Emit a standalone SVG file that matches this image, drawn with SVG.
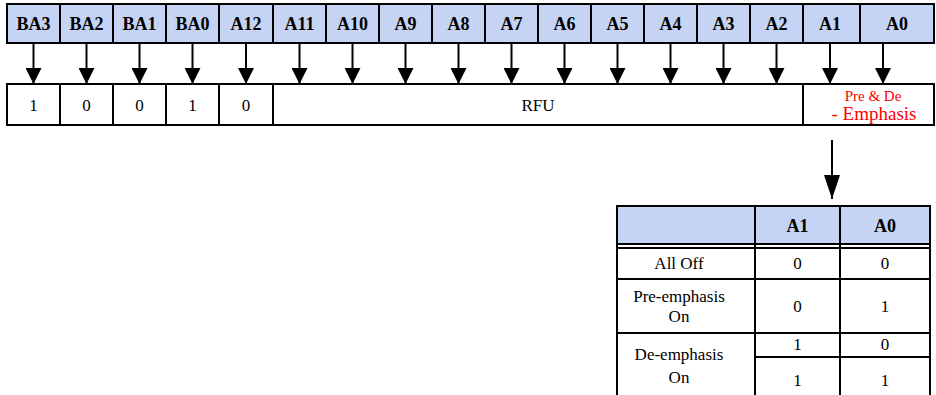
<svg xmlns="http://www.w3.org/2000/svg" width="936" height="395" viewBox="0 0 936 395">
<style>
.hd{fill:#c5d3f4;stroke:#000;stroke-width:2}
.cl{fill:#fff;stroke:#000;stroke-width:2}
.ln{stroke:#000;stroke-width:2;fill:none}
.hb{font-family:"Liberation Serif","DejaVu Serif",serif;font-weight:bold;font-size:18px;text-anchor:middle;fill:#000}
.tx{font-family:"Liberation Serif","DejaVu Serif",serif;font-size:17px;text-anchor:middle;fill:#000}
.red{font-family:"Liberation Serif","DejaVu Serif",serif;text-anchor:middle;fill:#ff0000}
.ar{stroke:#000;stroke-width:2;fill:none;marker-end:url(#ah)}
</style>
<defs>
<marker id="ah" markerUnits="userSpaceOnUse" markerWidth="16" markerHeight="16" refX="16" refY="8" orient="auto" viewBox="0 0 16 16"><path d="M0,0 L16,8 L0,16 z" fill="#000"/></marker>
<marker id="ah2" markerUnits="userSpaceOnUse" markerWidth="24" markerHeight="16" refX="24" refY="8" orient="auto" viewBox="0 0 24 16"><path d="M0,0 L24,8 L0,16 z" fill="#000"/></marker>
</defs>
<g id="header">
<rect class="hd" x="7" y="4" width="53" height="39"/><text class="hb" x="33.5" y="30">BA3</text>
<rect class="hd" x="60" y="4" width="53" height="39"/><text class="hb" x="86.5" y="30">BA2</text>
<rect class="hd" x="113" y="4" width="53" height="39"/><text class="hb" x="139.5" y="30">BA1</text>
<rect class="hd" x="166" y="4" width="53" height="39"/><text class="hb" x="192.5" y="30">BA0</text>
<rect class="hd" x="219" y="4" width="54" height="39"/><text class="hb" x="246" y="30">A12</text>
<rect class="hd" x="273" y="4" width="53" height="39"/><text class="hb" x="299.5" y="30">A11</text>
<rect class="hd" x="326" y="4" width="53" height="39"/><text class="hb" x="352.5" y="30">A10</text>
<rect class="hd" x="379" y="4" width="53" height="39"/><text class="hb" x="405.5" y="30">A9</text>
<rect class="hd" x="432" y="4" width="53" height="39"/><text class="hb" x="458.5" y="30">A8</text>
<rect class="hd" x="485" y="4" width="53" height="39"/><text class="hb" x="511.5" y="30">A7</text>
<rect class="hd" x="538" y="4" width="53" height="39"/><text class="hb" x="564.5" y="30">A6</text>
<rect class="hd" x="591" y="4" width="53" height="39"/><text class="hb" x="617.5" y="30">A5</text>
<rect class="hd" x="644" y="4" width="53" height="39"/><text class="hb" x="670.5" y="30">A4</text>
<rect class="hd" x="697" y="4" width="53" height="39"/><text class="hb" x="723.5" y="30">A3</text>
<rect class="hd" x="750" y="4" width="53" height="39"/><text class="hb" x="776.5" y="30">A2</text>
<rect class="hd" x="803" y="4" width="57" height="39"/><text class="hb" x="830" y="30">A1</text>
<rect class="hd" x="860" y="4" width="74" height="39"/><text class="hb" x="897" y="30">A0</text>
</g>
<g id="values">
<rect class="cl" x="7" y="84" width="53" height="41"/><text class="tx" x="33.5" y="111">1</text>
<rect class="cl" x="60" y="84" width="53" height="41"/><text class="tx" x="86.5" y="111">0</text>
<rect class="cl" x="113" y="84" width="53" height="41"/><text class="tx" x="139.5" y="111">0</text>
<rect class="cl" x="166" y="84" width="53" height="41"/><text class="tx" x="192.5" y="111">1</text>
<rect class="cl" x="219" y="84" width="54" height="41"/><text class="tx" x="246" y="111">0</text>
<rect class="cl" x="273" y="84" width="530" height="41"/><text class="tx" x="538" y="111">RFU</text>
<g id="emph">
<rect class="cl" x="803" y="84" width="131" height="41"/>
<text class="red" x="873" y="101" font-size="15">Pre &amp; De</text>
<text class="red" x="874" y="120" font-size="19">- Emphasis</text>
</g>
</g>
<g id="connectors">
<line class="ar" x1="33.5" y1="43" x2="33.5" y2="84"/>
<line class="ar" x1="86.5" y1="43" x2="86.5" y2="84"/>
<line class="ar" x1="139.5" y1="43" x2="139.5" y2="84"/>
<line class="ar" x1="192.5" y1="43" x2="192.5" y2="84"/>
<line class="ar" x1="246" y1="43" x2="246" y2="84"/>
<line class="ar" x1="299.5" y1="43" x2="299.5" y2="84"/>
<line class="ar" x1="352.5" y1="43" x2="352.5" y2="84"/>
<line class="ar" x1="405.5" y1="43" x2="405.5" y2="84"/>
<line class="ar" x1="458.5" y1="43" x2="458.5" y2="84"/>
<line class="ar" x1="511.5" y1="43" x2="511.5" y2="84"/>
<line class="ar" x1="564.5" y1="43" x2="564.5" y2="84"/>
<line class="ar" x1="617.5" y1="43" x2="617.5" y2="84"/>
<line class="ar" x1="670.5" y1="43" x2="670.5" y2="84"/>
<line class="ar" x1="723.5" y1="43" x2="723.5" y2="84"/>
<line class="ar" x1="776.5" y1="43" x2="776.5" y2="84"/>
<line class="ar" x1="830" y1="43" x2="830" y2="84"/>
<line class="ar" x1="883" y1="43" x2="883" y2="84"/>
<line x1="832" y1="140" x2="832" y2="199" stroke="#000" stroke-width="2" marker-end="url(#ah2)"/>
</g>
<g id="table">
<rect x="617" y="206" width="313" height="38" fill="#c5d3f4"/>
<text class="hb" x="797.5" y="232">A1</text>
<text class="hb" x="885" y="232">A0</text>
<text class="tx" x="679" y="269">All Off</text>
<text class="tx" x="797.5" y="269">0</text>
<text class="tx" x="885" y="269">0</text>
<text class="tx" x="679" y="302">Pre-emphasis</text>
<text class="tx" x="679" y="322">On</text>
<text class="tx" x="797.5" y="312">0</text>
<text class="tx" x="885" y="312">1</text>
<text class="tx" x="679" y="360">De-emphasis</text>
<text class="tx" x="679" y="383">On</text>
<text class="tx" x="797.5" y="350">1</text>
<text class="tx" x="885" y="350">0</text>
<text class="tx" x="797.5" y="386">1</text>
<text class="tx" x="885" y="386">1</text>
<path class="ln" d="M617,206 H930 M617,244 H930 M617,248 H930 M617,279 H930 M617,333 H930 M755,357 H930 M617,205 V395 M755,206 V395 M840,206 V395 M930,205 V395"/>
</g>
</svg>
